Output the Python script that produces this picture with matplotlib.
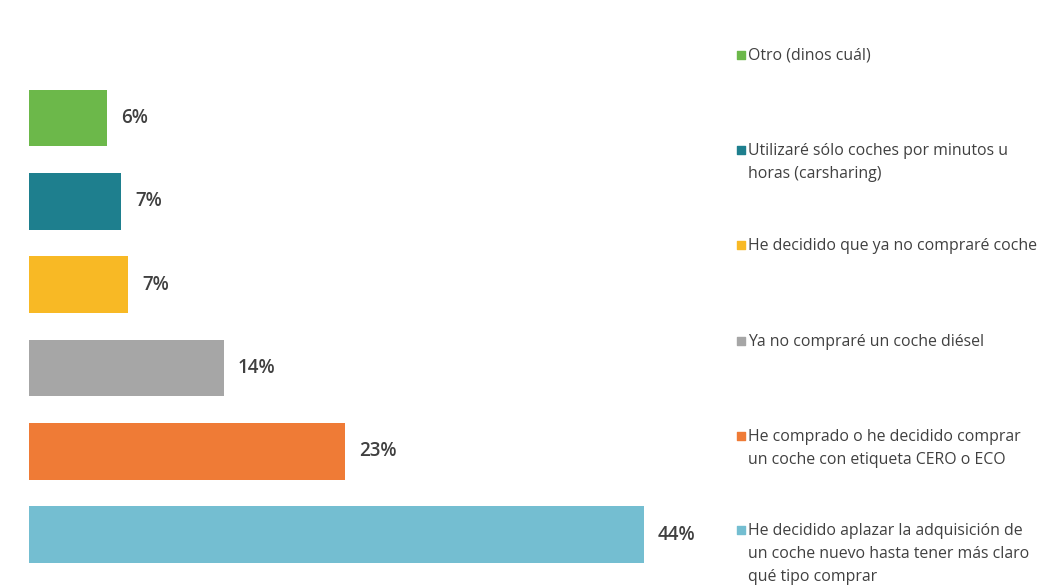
import matplotlib.pyplot as plt

# top to bottom
categories = [
    'Otro (dinos cuál)',
    'Utilizaré sólo coches por minutos u\nhoras (carsharing)',
    'He decidido que ya no compraré coche',
    'Ya no compraré un coche diésel',
    'He comprado o he decidido comprar\nun coche con etiqueta CERO o ECO',
    'He decidido aplazar la adquisición de\nun coche nuevo hasta tener más claro\nqué tipo comprar',
]
values = [5.6, 6.6, 7.1, 13.9, 22.6, 43.9]
labels = ['6%', '7%', '7%', '14%', '23%', '44%']
colors = ['#6cb84a', '#1e7f8e', '#f8b925', '#a6a6a6', '#ef7b36', '#74bed1']

plt.rcParams['font.family'] = ['Open Sans', 'DejaVu Sans']

fig = plt.figure(figsize=(10.48, 5.85), dpi=100)
ax = fig.add_axes([29 / 1048, 1 - 576.3 / 585, 700 / 1048, 500 / 585])

ypos = list(range(len(values)))
ax.barh(ypos, values, height=0.68, color=colors)
for y, v, lab in zip(ypos, values, labels):
    ax.text(v + 1.0, y, lab, va='center', ha='left', fontsize=13.5,
            fontweight='semibold', color='#404040')

ax.set_xlim(0, 50)
ax.set_ylim(len(values) - 0.5, -0.5)
ax.axis('off')

# legend on the right
leg = fig.add_axes([0, 0, 1, 1])
leg.set_xlim(0, 1048)
leg.set_ylim(585, 0)
leg.axis('off')
leg_y = [52, 147, 242, 338, 433, 527]
for y, c, txt in zip(leg_y, colors, categories):
    leg.scatter([741], [y + 2.5], marker='s', s=26, color=c)
    leg.text(748, y - 4, txt, va='top', ha='left', fontsize=11.4, color='#404040',
             linespacing=1.6)

fig.savefig('out.png', dpi=100)
